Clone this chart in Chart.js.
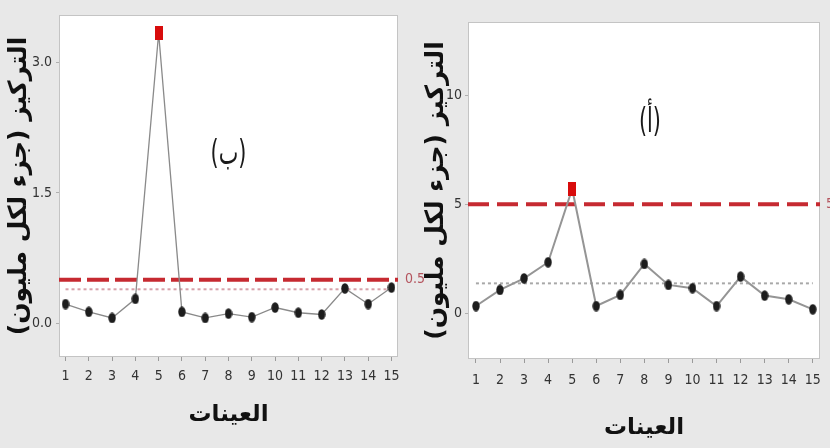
<!DOCTYPE html>
<html>
<head>
<meta charset="utf-8">
<script src="https://cdn.jsdelivr.net/npm/chart.js@4.4.1/dist/chart.umd.min.js"></script>
<style>
  html, body { margin: 0; padding: 0; width: 830px; height: 448px; overflow: hidden; background: #e8e8e8; }
  canvas { position: absolute; top: 0; }
  #chartB { left: 0; }
  #chartA { left: 420px; }
</style>
</head>
<body>
<canvas id="chartB" width="428" height="448"></canvas>
<canvas id="chartA" width="410" height="448"></canvas>
<script>
// Sample numbers (x axis)
const samples = [1, 2, 3, 4, 5, 6, 7, 8, 9, 10, 11, 12, 13, 14, 15];

// Panel (ب): concentration, ppm
const concB = [0.22, 0.13, 0.06, 0.28, 3.34, 0.13, 0.06, 0.11, 0.07, 0.18, 0.12, 0.10, 0.40, 0.22, 0.41];
const limitB = 0.5;
const meanB = 0.39;
const yTicksB = [0.0, 1.5, 3.0];

// Panel (أ): concentration, ppm
const concA = [0.33, 1.07, 1.60, 2.34, 5.70, 0.33, 0.84, 2.26, 1.30, 1.15, 0.33, 1.68, 0.81, 0.64, 0.18];
const limitA = 5;
const meanA = 1.37;
const yTicksA = [0, 5, 10];

const RLM = '\u200F';
const yTitle = 'التركيز (جزء لكل مليون)' + RLM;
const xTitle = 'العينات';
const panelB = RLM + '(ب)' + RLM;
const panelA = RLM + '(أ)' + RLM;

// marker images: dark oval for normal samples, red block for samples over the limit
function makeMarker(w, h, color, oval) {
  const c = document.createElement('canvas');
  c.width = w; c.height = h;
  const g = c.getContext('2d');
  g.fillStyle = color;
  if (oval) {
    g.beginPath();
    g.ellipse(w / 2, h / 2, w / 2 - 0.3, h / 2 - 0.3, 0, 0, Math.PI * 2);
    g.fill();
  } else {
    g.fillRect(0, 0, w, h);
  }
  return c;
}
const dotImg = makeMarker(8, 11, '#1d1d1d', true);
const redImg = makeMarker(8, 14, '#d80c0c', false);

const narrowFamily = '"DejaVu Sans Condensed", "Liberation Sans Narrow", "Liberation Sans", sans-serif';
const tickFont = { family: narrowFamily, size: 14 };
const arFont = (size) => ({ family: '"DejaVu Sans", sans-serif', size: size, weight: 'bold' });

// white plot area with a thin grey frame
const framePlugin = {
  id: 'frame',
  beforeDraw(chart) {
    const { ctx, chartArea: a } = chart;
    ctx.save();
    ctx.fillStyle = '#ffffff';
    ctx.fillRect(a.left, a.top, a.right - a.left, a.bottom - a.top);
    ctx.strokeStyle = '#c4c4c4';
    ctx.lineWidth = 1;
    ctx.strokeRect(a.left + 0.5, a.top + 0.5, a.right - a.left - 1, a.bottom - a.top - 1);
    ctx.restore();
  }
};

// limit value beside the red line, plus the panel letter
const annotPlugin = {
  id: 'annot',
  afterDraw(chart, args, opts) {
    const { ctx, chartArea: a, scales } = chart;
    ctx.save();
    ctx.font = '14px ' + narrowFamily;
    ctx.fillStyle = '#b4545e';
    ctx.textAlign = 'left';
    ctx.textBaseline = 'middle';
    ctx.fillText(opts.limitText, a.right + opts.limitGap, scales.y.getPixelForValue(opts.limit));
    const px = a.left + (a.right - a.left) * opts.fx;
    const py = a.top + (a.bottom - a.top) * opts.fy;
    ctx.translate(px, py);
    ctx.scale(0.8, 1.3);
    ctx.font = '26px "DejaVu Sans", sans-serif';
    ctx.fillStyle = '#1a1a1a';
    ctx.textAlign = 'center';
    ctx.fillText(opts.label, 0, 0);
    ctx.restore();
  }
};

function buildChart(id, cfg) {
  const xMin = cfg.xRange[0], xMax = cfg.xRange[1];
  return new Chart(document.getElementById(id), {
    type: 'line',
    data: {
      datasets: [
        {
          // upper limit
          data: [{ x: xMin, y: cfg.limit }, { x: xMax, y: cfg.limit }],
          borderColor: '#c62a31',
          borderWidth: 4,
          borderDash: cfg.limitDash,
          pointRadius: 0,
          order: 3
        },
        {
          // mean line
          data: [{ x: samples[0], y: cfg.mean }, { x: samples[samples.length - 1], y: cfg.mean }],
          borderColor: cfg.meanColor,
          borderWidth: 2,
          borderDash: [3, 3],
          pointRadius: 0,
          order: 2
        },
        {
          data: samples.map((s, i) => ({ x: s, y: cfg.values[i] })),
          borderColor: cfg.lineColor,
          borderWidth: cfg.lineWidth,
          pointRadius: 4,
          pointStyle: (c) => (c.raw && c.raw.y > cfg.limit ? redImg : dotImg),
          order: 1
        }
      ]
    },
    options: {
      responsive: false,
      animation: false,
      devicePixelRatio: 1,
      layout: { padding: { left: 0, right: cfg.padRight, top: cfg.padTop, bottom: 0 } },
      plugins: {
        legend: { display: false },
        tooltip: { enabled: false },
        annot: { limit: cfg.limit, limitText: cfg.limitText, limitGap: cfg.limitGap, label: cfg.label, fx: cfg.labelPos[0], fy: cfg.labelPos[1] }
      },
      scales: {
        x: {
          type: 'linear',
          min: xMin,
          max: xMax,
          afterBuildTicks: (s) => { s.ticks = samples.map((v) => ({ value: v })); },
          afterFit: (s) => { s.height = cfg.xHeight; },
          border: { display: false },
          grid: { drawOnChartArea: false, drawTicks: true, tickLength: 4, color: '#9a9a9a' },
          ticks: { font: tickFont, color: '#333333', padding: cfg.xTickPad, maxRotation: 0, autoSkip: false },
          title: { display: true, text: xTitle, font: arFont(23), color: '#111111', padding: { top: 0, bottom: cfg.xTitlePad } }
        },
        y: {
          type: 'linear',
          min: cfg.yRange[0],
          max: cfg.yRange[1],
          afterBuildTicks: (s) => { s.ticks = cfg.yTicks.map((v) => ({ value: v })); },
          afterFit: (s) => { s.width = cfg.yWidth; },
          border: { display: false },
          grid: { drawOnChartArea: false, drawTicks: true, tickLength: 3, color: '#b0b0b0' },
          ticks: { font: tickFont, color: '#333333', padding: cfg.yTickPad, callback: cfg.yFormat },
          title: { display: true, text: yTitle, font: arFont(25), color: '#111111', padding: { top: cfg.yTitlePad, bottom: 0 } }
        }
      }
    },
    plugins: [framePlugin, annotPlugin]
  });
}

buildChart('chartB', {
  values: concB, limit: limitB, mean: meanB, yTicks: yTicksB,
  xRange: [0.72, 15.28], yRange: [-0.39, 3.55],
  yFormat: (v) => Number(v).toFixed(1),
  limitText: '0.5', limitGap: 7, limitDash: [22, 6],
  label: panelB, labelPos: [0.5, 0.41],
  meanColor: '#d7a1aa', lineColor: '#8a8a8a', lineWidth: 1.3,
  padRight: 30, padTop: 15, yWidth: 59, xHeight: 91,
  xTickPad: 7, yTickPad: 4, xTitlePad: 19, yTitlePad: 4
});

buildChart('chartA', {
  values: concA, limit: limitA, mean: meanA, yTicks: yTicksA,
  xRange: [0.67, 15.3], yRange: [-2.1, 13.36],
  yFormat: (v) => String(v),
  limitText: '5', limitGap: 6, limitDash: [21, 8],
  label: panelA, labelPos: [0.517, 0.3],
  meanColor: '#a8a8a8', lineColor: '#959595', lineWidth: 2,
  padRight: 10, padTop: 22, yWidth: 48, xHeight: 89,
  xTickPad: 9, yTickPad: 3, xTitlePad: 6, yTitlePad: 1
});
</script>
</body>
</html>
